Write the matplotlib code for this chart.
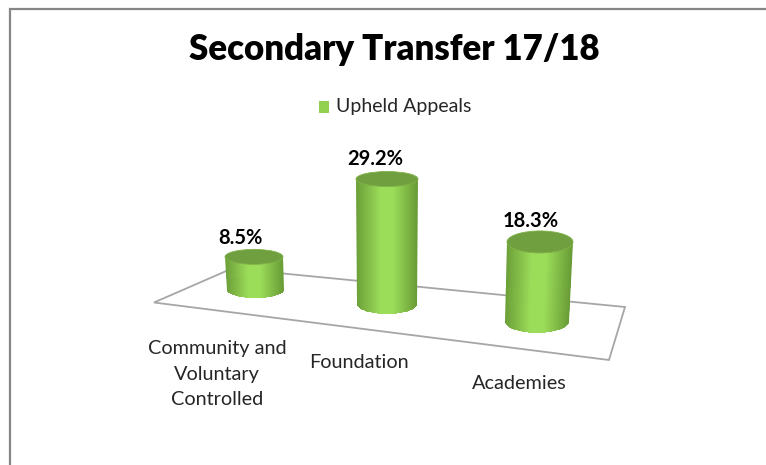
import matplotlib
matplotlib.use("Agg")
import matplotlib.pyplot as plt
import numpy as np
from matplotlib.colors import LinearSegmentedColormap
from matplotlib.patches import Ellipse, PathPatch, Polygon, Rectangle
from matplotlib.path import Path

plt.rcParams['font.family'] = ['Lato', 'DejaVu Sans']

categories = ['Community and\nVoluntary\nControlled', 'Foundation', 'Academies']
upheld = [8.5, 29.2, 18.3]
value_labels = ['8.5%', '29.2%', '18.3%']

# perspective layout of the fake 3d cylinders, in image pixels
base_cx = [255.5, 387, 537]
base_cy = [290, 304, 321]
base_w = [57, 60, 64]
top_cx = [254, 387, 540]
top_w = [58, 62, 66]
ry_top = [7.5, 7.5, 11]
ry_bot = [8, 10, 12]
px_per_pct = [3.9, 4.28, 4.32]
label_xy = [(217, 374), (359, 362.5), (519, 383.5)]
value_xy = [(240, 238), (375, 158.5), (531, 220.5)]

fig = plt.figure(figsize=(7.66, 4.65), dpi=100)
ax = fig.add_axes([0, 0, 1, 1])
ax.set_xlim(0, 766)
ax.set_ylim(465, 0)
ax.axis('off')

# outer frame, only top and left show
ax.plot([10, 10, 766], [465, 9, 9], color='#868686', lw=1.6, solid_joinstyle='miter')

# floor
floor = Polygon([(154, 302.5), (232, 268.5), (625, 307), (609, 360)], closed=True,
                facecolor='white', edgecolor='#a6a6a6', lw=1.3, zorder=1)
ax.add_patch(floor)

shade = LinearSegmentedColormap.from_list('cyl', ['#6b9f38', '#83bd48', '#9bdd59', '#9bdd59', '#83bd48', '#699c36'])

for i, val in enumerate(upheld):
    h = val * px_per_pct[i]
    cy_top = base_cy[i] - h
    cy_bot = base_cy[i]
    xl_t = top_cx[i] - top_w[i] / 2
    xr_t = top_cx[i] + top_w[i] / 2
    xl_b = base_cx[i] - base_w[i] / 2
    xr_b = base_cx[i] + base_w[i] / 2

    # body outline: straight sides, half ellipse at the bottom
    t = np.linspace(0, np.pi, 60)
    arc_x = base_cx[i] + base_w[i] / 2 * np.cos(t)
    arc_y = cy_bot + ry_bot[i] * np.sin(t)
    verts = [(xl_t, cy_top), (xr_t, cy_top)] + list(zip(arc_x, arc_y)) + [(xl_t, cy_top)]
    clip = PathPatch(Path(verts), transform=ax.transData, facecolor='none', edgecolor='none')
    ax.add_patch(clip)

    # horizontal shading that leans with the cylinder
    u = np.linspace(0, 1, 80)
    X = np.vstack([xl_t + (xr_t - xl_t) * u, xl_b + (xr_b - xl_b) * u])
    Y = np.vstack([np.full(80, cy_top), np.full(80, cy_bot + ry_bot[i] + 1)])
    C = 0.5 * (u[:-1] + u[1:]).reshape(1, -1)
    mesh = ax.pcolormesh(X, Y, C, cmap=shade, vmin=0, vmax=1, shading='flat', zorder=3, rasterized=True)
    mesh.set_clip_path(clip)

    cap = Ellipse((top_cx[i], cy_top), top_w[i], 2 * ry_top[i], facecolor='#6f9f3e', edgecolor='#82b24a',
                  lw=0.6, zorder=4)
    ax.add_patch(cap)

    ax.text(value_xy[i][0], value_xy[i][1], value_labels[i], ha='center', va='center',
            fontsize=14.5, fontweight='bold', color='black', zorder=5)

    ax.text(label_xy[i][0], label_xy[i][1], categories[i], ha='center', va='center', fontsize=14.3,
            color='#262626', linespacing=1.62, zorder=5)

ax.text(394, 49, 'Secondary Transfer 17/18', ha='center', va='center', fontsize=25, fontweight='heavy', color='black')

ax.add_patch(Rectangle((319, 100.5), 10, 12.5, facecolor='#92d050', edgecolor='none'))
ax.text(336, 106.5, 'Upheld Appeals', ha='left', va='center', fontsize=14, color='#262626')

fig.savefig('out.png', dpi=100)
